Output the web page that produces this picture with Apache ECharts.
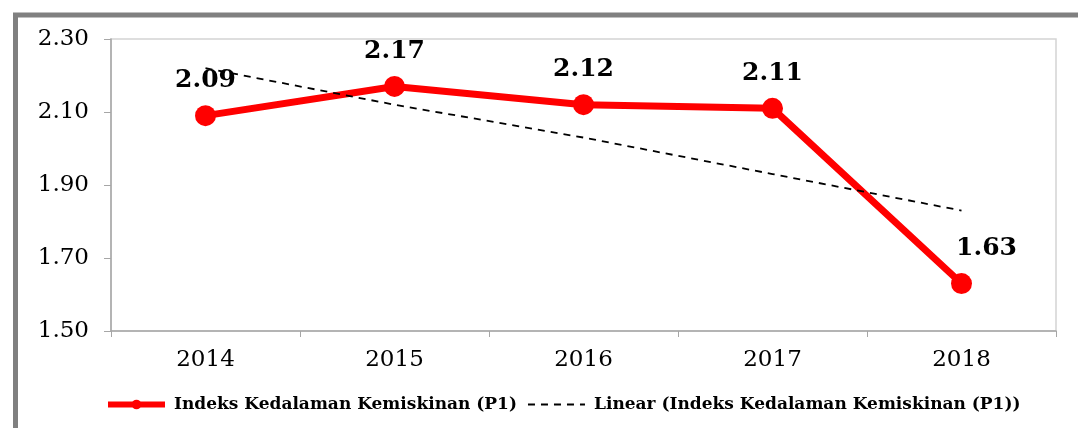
<!DOCTYPE html>
<html>
<head>
<meta charset="utf-8">
<script src="https://cdn.jsdelivr.net/npm/echarts@6/dist/echarts.min.js"></script>
<style>
  html, body { margin: 0; padding: 0; background: #fff; }
  #chart { width: 1078px; height: 428px; }
</style>
</head>
<body>
<div id="chart"></div>
<script>
// data
var years = ['2014', '2015', '2016', '2017', '2018'];
var p1 = [2.09, 2.17, 2.12, 2.11, 1.63];
// garis tren
var trend = [2.22, 2.12, 2.03, 1.93, 1.83];
var yTicks = [1.50, 1.70, 1.90, 2.10, 2.30];

var nameP1 = 'Indeks Kedalaman Kemiskinan (P1)';
var nameTrend = 'Linear (Indeks Kedalaman Kemiskinan (P1))';

var serif = '"DejaVu Serif", "Liberation Serif", serif';

var p1Data = p1.map(function (v, i) {
    var d = { value: v };
    if (i === p1.length - 1) d.label = { offset: [25, 0] };
    return d;
});

var myChart = echarts.init(document.getElementById('chart'), null, { renderer: 'canvas' });
var option = {
    animation: false,
    backgroundColor: '#fff',
    graphic: [{
        type: 'rect',
        shape: { x: 15.5, y: 15, width: 1300, height: 700 },
        style: { fill: 'none', stroke: '#808080', lineWidth: 5 },
        z: 0
    }],
    grid: {
        left: 111, top: 39, right: 22, bottom: 97,
        show: true, borderColor: '#d4d4d4', borderWidth: 1.5, backgroundColor: 'transparent'
    },
    legend: {
        left: 100, top: 391,
        itemWidth: 57, itemHeight: 12, itemGap: 10,
        textStyle: { fontFamily: serif, fontWeight: 'bold', fontSize: 17, color: '#000', padding: [0, 0, 0, 4] },
        data: [{
            name: nameP1,
            lineStyle: { width: 6, color: '#ff0000' }
        }, {
            name: nameTrend,
            itemStyle: { color: 'transparent', borderWidth: 0, opacity: 0 },
            lineStyle: { width: 2, color: '#000', type: [7, 6] }
        }]
    },
    xAxis: {
        type: 'category',
        data: years,
        boundaryGap: true,
        axisLine: { lineStyle: { color: '#a6a6a6', width: 1.5 } },
        axisTick: { show: true, length: 6, lineStyle: { color: '#a6a6a6' } },
        axisLabel: { margin: 18, fontFamily: serif, fontSize: 23, color: '#000' },
        splitLine: { show: false }
    },
    yAxis: {
        type: 'value',
        min: yTicks[0],
        max: yTicks[yTicks.length - 1],
        interval: 0.2,
        axisLine: { show: true, lineStyle: { color: '#a6a6a6', width: 1.5 } },
        axisTick: { show: true, length: 7, lineStyle: { color: '#a6a6a6' } },
        axisLabel: {
            margin: 22, fontFamily: serif, fontSize: 23, color: '#000',
            formatter: function (v) { return v.toFixed(2); }
        },
        splitLine: { show: false }
    },
    series: [{
        name: nameP1,
        type: 'line',
        data: p1Data,
        symbol: 'circle',
        symbolSize: 21,
        lineStyle: { color: '#ff0000', width: 7 },
        itemStyle: { color: '#ff0000' },
        label: {
            show: true, position: 'top', distance: 12,
            fontFamily: serif, fontWeight: 'bold', fontSize: 25, color: '#000',
            formatter: function (p) { return p.value.toFixed(2); }
        },
        z: 3
    }, {
        name: nameTrend,
        type: 'line',
        data: trend,
        symbol: 'none',
        lineStyle: { color: '#000', width: 1.8, type: [7, 6] },
        itemStyle: { color: '#000' },
        z: 4
    }]
};
myChart.setOption(option);
</script>
</body>
</html>
